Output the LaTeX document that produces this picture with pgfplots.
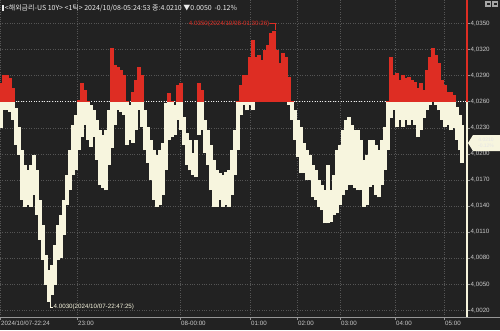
\documentclass[border=0pt]{standalone}
\usepackage{pgfplots}
\pgfplotsset{compat=1.18}
\usepackage{pgfplotstable}
\usepackage{fontspec}
\setmainfont{Liberation Sans}
\newfontfamily\cjk{Noto Sans CJK KR}
\definecolor{bg}{RGB}{34,34,34}
\definecolor{cream}{RGB}{247,245,222}
\definecolor{upred}{RGB}{222,45,35}
\definecolor{gridgray}{RGB}{85,85,85}
\definecolor{lbl}{RGB}{200,200,200}
\definecolor{tickgray}{RGB}{150,150,150}

\pgfplotstableread{
x lo hi
1 4.0230 4.0282
4 4.0250 4.0291
7 4.0250 4.0291
10 4.0248 4.0287
13 4.0239 4.0276
16 4.0210 4.0253
19 4.0199 4.0231
22 4.0147 4.0204
25 4.0139 4.0187
28 4.0141 4.0181
31 4.0139 4.0187
34 4.0153 4.0199
37 4.0130 4.0181
40 4.0101 4.0147
43 4.0078 4.0118
46 4.0049 4.0084
49 4.0030 4.0066
52 4.0038 4.0072
55 4.0049 4.0095
58 4.0078 4.0118
61 4.0080 4.0130
64 4.0107 4.0147
67 4.0141 4.0176
70 4.0158 4.0204
73 4.0176 4.0233
76 4.0181 4.0245
79 4.0204 4.0262
82 4.0219 4.0282
85 4.0233 4.0273
88 4.0216 4.0261
91 4.0208 4.0256
94 4.0219 4.0250
97 4.0193 4.0239
100 4.0164 4.0227
103 4.0161 4.0222
106 4.0158 4.0227
109 4.0187 4.0250
112 4.0207 4.0322
115 4.0233 4.0302
118 4.0250 4.0300
121 4.0248 4.0296
124 4.0245 4.0291
127 4.0210 4.0261
130 4.0216 4.0256
133 4.0213 4.0271
136 4.0227 4.0285
139 4.0250 4.0300
142 4.0231 4.0291
145 4.0204 4.0250
148 4.0190 4.0231
151 4.0170 4.0216
154 4.0147 4.0204
157 4.0139 4.0199
160 4.0141 4.0204
163 4.0153 4.0213
166 4.0181 4.0258
169 4.0216 4.0270
172 4.0219 4.0261
175 4.0222 4.0256
178 4.0239 4.0279
181 4.0227 4.0282
184 4.0210 4.0242
187 4.0187 4.0224
190 4.0181 4.0216
193 4.0176 4.0201
196 4.0173 4.0216
199 4.0222 4.0282
202 4.0227 4.0273
205 4.0201 4.0239
208 4.0187 4.0227
211 4.0158 4.0210
214 4.0139 4.0193
217 4.0139 4.0181
220 4.0147 4.0178
223 4.0139 4.0176
226 4.0141 4.0179
229 4.0139 4.0181
232 4.0153 4.0204
235 4.0176 4.0227
238 4.0204 4.0261
241 4.0245 4.0279
244 4.0256 4.0291
247 4.0250 4.0291
250 4.0256 4.0311
253 4.0250 4.0331
256 4.0260 4.0311
259 4.0260 4.0314
262 4.0260 4.0308
265 4.0260 4.0319
268 4.0260 4.0325
271 4.0260 4.0339
274 4.0260 4.0341
277 4.0260 4.0319
280 4.0260 4.0304
283 4.0260 4.0316
286 4.0260 4.0311
289 4.0256 4.0288
292 4.0239 4.0261
295 4.0216 4.0250
298 4.0196 4.0239
301 4.0178 4.0231
304 4.0178 4.0213
307 4.0170 4.0204
310 4.0170 4.0199
313 4.0150 4.0187
316 4.0147 4.0181
319 4.0139 4.0170
322 4.0135 4.0164
325 4.0120 4.0158
328 4.0120 4.0187
331 4.0122 4.0158
334 4.0130 4.0176
337 4.0132 4.0204
340 4.0141 4.0210
343 4.0153 4.0227
346 4.0158 4.0239
349 4.0164 4.0242
352 4.0164 4.0233
355 4.0161 4.0227
358 4.0158 4.0227
361 4.0158 4.0216
364 4.0139 4.0193
367 4.0141 4.0199
370 4.0162 4.0216
373 4.0164 4.0216
376 4.0153 4.0210
379 4.0150 4.0204
382 4.0164 4.0216
385 4.0181 4.0231
388 4.0204 4.0261
391 4.0241 4.0311
394 4.0250 4.0291
397 4.0231 4.0293
400 4.0239 4.0285
403 4.0231 4.0291
406 4.0239 4.0287
409 4.0233 4.0288
412 4.0239 4.0285
415 4.0233 4.0283
418 4.0219 4.0276
421 4.0227 4.0282
424 4.0241 4.0273
427 4.0250 4.0296
430 4.0256 4.0311
433 4.0260 4.0322
436 4.0256 4.0314
439 4.0250 4.0304
442 4.0239 4.0285
445 4.0231 4.0279
448 4.0233 4.0271
451 4.0227 4.0271
454 4.0230 4.0268
457 4.0216 4.0254
460 4.0204 4.0245
462 4.0190 4.0233
}\bars

\begin{document}
\begin{tikzpicture}
\fill[bg] (0pt,0pt) rectangle (500pt,330pt);
\useasboundingbox (0pt,0pt) rectangle (500pt,330pt);
\begin{axis}[
  at={(0pt,13pt)}, anchor=south west,
  scale only axis, width=467pt, height=317pt,
  xmin=0, xmax=467, ymin=4.00124, ymax=4.0377,
  clip=false,
  axis line style={draw=none},
  xtick={0,77,180,250,297,340,395,444},
  xticklabels={2024/10/07-22:24,23:00,08-00:00,01:00,02:00,03:00,04:00,05:00},
  ytick={4.0020,4.0050,4.0080,4.0110,4.0140,4.0170,4.0200,4.0230,4.0260,4.0290,4.0320,4.0350},
  yticklabels={{4,0020},{4,0050},{4,0080},{4,0110},{4,0140},{4,0170},{4,0200},{4,0230},{4,0260},{4,0290},{4,0320},{4,0350}},
  yticklabel pos=right, ytick pos=right, xtick pos=bottom,
  tick align=outside, major tick length=3pt,
  tick style={draw=tickgray, line width=0.5pt},
  grid=major, major grid style={dotted, draw=gridgray, line width=0.6pt},
  xticklabel style={anchor=north west, inner sep=0pt, xshift=1pt, yshift=-1pt, font=\fontsize{6.2}{7}\selectfont, text=lbl},
  yticklabel style={anchor=west, inner sep=0pt, xshift=0.5pt, font=\fontsize{6.2}{7}\selectfont, text=lbl},
]
\draw[dotted, line width=0.6pt, draw=white!85!gray] (axis cs:0,4.026) -- (axis cs:467,4.026);
\addplot[draw=none, mark=none, forget plot,
  error bars/.cd, y dir=plus, y explicit, error mark=none,
  error bar style={draw=cream, line width=3.3pt}]
  table[x=x, y expr={min(\thisrow{lo},4.026)}, y error plus expr={min(\thisrow{hi},4.026)-min(\thisrow{lo},4.026)}] {\bars};
\addplot[draw=none, mark=none, forget plot,
  error bars/.cd, y dir=plus, y explicit, error mark=none,
  error bar style={draw=upred, line width=3.3pt}]
  table[x=x, y expr={max(\thisrow{lo},4.026)}, y error plus expr={max(\thisrow{hi},4.026)-max(\thisrow{lo},4.026)}] {\bars};
\draw[upred, line width=1.3pt] (axis cs:467,4.026) -- (axis cs:467,4.0377);
\draw[cream, line width=1.3pt] (axis cs:467,4.00124) -- (axis cs:467,4.026);
% annotations
\draw[upred, line width=0.6pt] (axis cs:270,4.0350) -- (axis cs:275,4.0350) -- (axis cs:275,4.0343);
\node[anchor=east, inner sep=0pt, text=upred, font=\fontsize{6.2}{7}\selectfont] at (axis cs:269.5,4.0350) {4.0350(2024/10/08-01:30:26)};
\draw[cream, line width=0.6pt] (axis cs:50,4.0030) -- (axis cs:50,4.0024) -- (axis cs:53,4.0024);
\node[anchor=west, inner sep=0pt, text=cream, font=\fontsize{6.2}{7}\selectfont] at (axis cs:53.5,4.0024) {4.0030(2024/10/07-22:47:25)};
\end{axis}
\draw[tickgray, line width=0.8pt] (0pt,13pt) -- (500pt,13pt);
% current price box
\fill[cream] (468pt,187pt) -- (473pt,195pt) -- (500pt,195pt) -- (500pt,179pt) -- (473pt,179pt) -- cycle;
\node[anchor=center, inner sep=0pt, align=center, text=white!80!gray, font=\fontsize{5}{5.6}\selectfont] at (486pt,187pt) {4.0210\\-0.12\%};
% header
\node[anchor=west, inner sep=0pt, text=white!92!black, font=\cjk\fontsize{7}{7.5}\selectfont] at (2pt,322pt) {\rule[-0.5pt]{1.6pt}{6pt}\,<해외금리-US 10Y> <1틱> 2024/10/08-05:24:53 종:4.0210 ▼0.0050 \,-0.12\%};
% icons
\fill[gray!70] (485pt,323pt) rectangle (491pt,329pt);
\fill[gray!70] (492pt,323pt) rectangle (498pt,329pt);
\fill[bg] (486.5pt,325pt) rectangle (489.5pt,327pt);
\fill[bg] (493.5pt,325pt) rectangle (496.5pt,327pt);
\end{tikzpicture}
\end{document}
